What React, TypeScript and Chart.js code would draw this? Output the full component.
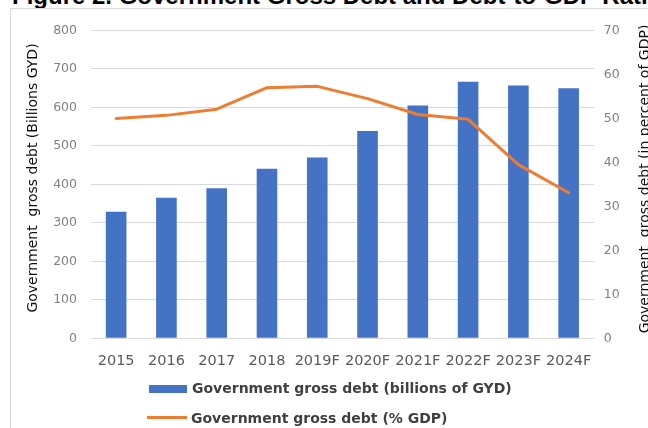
import React, { useEffect, useRef } from "react";
import { Chart, registerables } from "chart.js";

Chart.register(...registerables);

const figureTitle = "Figure 2. Government Gross Debt and Debt-to-GDP Ratio";
const years = ["2015", "2016", "2017", "2018", "2019F", "2020F", "2021F", "2022F", "2023F", "2024F"];
const debtBillionsGYD = [329, 365, 390, 441, 470, 539, 605, 667, 657, 650];
const debtPctGDP = [50, 50.7, 52.1, 57, 57.3, 54.5, 50.9, 49.8, 39.5, 33.1];
const leftTickValues = [0, 100, 200, 300, 400, 500, 600, 700, 800];
const rightTickValues = [0, 10, 20, 30, 40, 50, 60, 70];
const barLabel = "Government gross debt (billions of GYD)";
const lineLabel = "Government gross debt (% GDP)";
const leftAxisTitle = "Government  gross debt (Billions GYD)";
const rightAxisTitle = "Government  gross debt (in percent of GDP)";

const BLUE = "#4472C4";
const ORANGE = "#ED7D31";

const axisTitlesPlugin = {
  id: "axisTitles",
  afterDraw(chart: any) {
    const ctx = chart.ctx;
    ctx.save();
    ctx.fillStyle = "#111111";
    ctx.font = '14px "DejaVu Sans"';
    ctx.textAlign = "center";
    ctx.textBaseline = "alphabetic";
    ctx.translate(26, 169);
    ctx.rotate(-Math.PI / 2);
    ctx.fillText(leftAxisTitle, 0, 0);
    ctx.restore();

    ctx.save();
    ctx.fillStyle = "#111111";
    ctx.font = '14px "DejaVu Sans"';
    ctx.textAlign = "center";
    ctx.textBaseline = "alphabetic";
    ctx.translate(638, 170);
    ctx.rotate(-Math.PI / 2);
    ctx.fillText(rightAxisTitle, 0, 0);
    ctx.restore();
  },
};

export default function App() {
  const canvasRef = useRef<HTMLCanvasElement | null>(null);

  useEffect(() => {
    if (!canvasRef.current) return;
    const chart = new Chart(canvasRef.current, {
      type: "bar",
      data: {
        labels: years,
        datasets: [
          {
            type: "line",
            label: lineLabel,
            data: debtPctGDP,
            yAxisID: "y1",
            borderColor: ORANGE,
            backgroundColor: ORANGE,
            borderWidth: 3,
            pointRadius: 0,
            tension: 0,
            borderCapStyle: "round",
            borderJoinStyle: "round",
            order: 0,
          } as any,
          {
            type: "bar",
            label: barLabel,
            data: debtBillionsGYD,
            yAxisID: "y",
            backgroundColor: BLUE,
            borderWidth: 0,
            barPercentage: 0.41,
            categoryPercentage: 1,
            order: 1,
          } as any,
        ],
      },
      options: {
        animation: false,
        responsive: true,
        maintainAspectRatio: false,
        layout: { padding: { top: 19, left: 0, right: 0, bottom: 0 } },
        plugins: {
          legend: { display: false },
          tooltip: { enabled: false },
          title: { display: false },
        },
        scales: {
          x: {
            offset: true,
            grid: { display: false, drawTicks: false },
            border: { display: false },
            ticks: {
              color: "#595959",
              font: { family: "DejaVu Sans", size: 14.5 },
              padding: 14,
              maxRotation: 0,
              autoSkip: false,
            },
            afterFit: (s: any) => {
              s.height = 89.7;
            },
          },
          y: {
            position: "left",
            min: 0,
            max: 800,
            afterBuildTicks: (s: any) => {
              s.ticks = leftTickValues.map((v) => ({ value: v }));
            },
            grid: { color: "#d9d9d9", lineWidth: 1, drawTicks: false },
            border: { display: false },
            ticks: {
              color: "#808080",
              font: { family: "DejaVu Sans", size: 12.5 },
              padding: 14,
            },
            afterFit: (s: any) => {
              s.width = 80;
            },
          },
          y1: {
            position: "right",
            min: 0,
            max: 70,
            afterBuildTicks: (s: any) => {
              s.ticks = rightTickValues.map((v) => ({ value: v }));
            },
            grid: { display: false, drawTicks: false },
            border: { display: false },
            ticks: {
              color: "#808080",
              font: { family: "DejaVu Sans", size: 12.5 },
              padding: 10,
            },
            afterFit: (s: any) => {
              s.width = 54.2;
            },
          },
        },
      },
      plugins: [axisTitlesPlugin],
    });
    return () => chart.destroy();
  }, []);

  return (
    <div
      style={{
        position: "absolute",
        left: 0,
        top: 0,
        width: 648,
        height: 428,
        overflow: "hidden",
        background: "#ffffff",
      }}
    >
      <div
        style={{
          position: "absolute",
          left: 12,
          top: -16.5,
          whiteSpace: "nowrap",
          font: 'bold 24px "Liberation Sans"',
          lineHeight: "24px",
          color: "#000000",
        }}
      >
        {figureTitle}
      </div>
      <div
        style={{
          position: "absolute",
          left: 10,
          top: 8,
          width: 700,
          height: 500,
          borderLeft: "1px solid #d9d9d9",
          borderTop: "1px solid #d9d9d9",
          background: "#ffffff",
        }}
      />
      <div style={{ position: "absolute", left: 11, top: 9, width: 637, height: 419 }}>
        <canvas ref={canvasRef} />
      </div>
      <div
        style={{ position: "absolute", left: 149, top: 385, width: 38, height: 8, background: BLUE }}
      />
      <div
        style={{
          position: "absolute",
          left: 192,
          top: 380,
          whiteSpace: "nowrap",
          font: 'bold 14px "DejaVu Sans"',
          lineHeight: "16px",
          color: "#404040",
        }}
      >
        {barLabel}
      </div>
      <div
        style={{ position: "absolute", left: 147, top: 415.5, width: 40, height: 3, background: ORANGE }}
      />
      <div
        style={{
          position: "absolute",
          left: 191,
          top: 410,
          whiteSpace: "nowrap",
          font: 'bold 14px "DejaVu Sans"',
          lineHeight: "16px",
          color: "#404040",
        }}
      >
        {lineLabel}
      </div>
    </div>
  );
}
